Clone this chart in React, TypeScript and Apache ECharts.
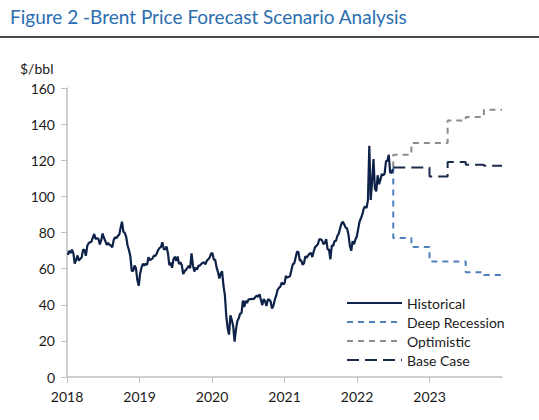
import React, { useEffect, useRef } from "react";
import * as echarts from "echarts";

// Weekly Brent closes (Fridays), starting 2018-01-05
const hist2018 = [67.6, 69.9, 68.6, 70.5, 68.6, 62.8, 64.8, 67.3, 64.4, 65.5, 66.2, 70.5, 70.3, 67.1, 72.6, 74.1, 74.6, 74.9, 77.1, 79.2, 76.4, 76.8, 76.5, 73.4, 75.6, 79.4, 77.1, 75.3, 73.1, 74.3, 73.2, 72.8, 71.8, 75.8, 77.4, 76.8, 78.1, 78.8, 82.7, 86.0, 80.4, 79.8, 77.6, 72.8, 70.2, 66.8, 58.8, 58.7, 61.7, 60.3, 53.8, 50.5];
const hist2019 = [57.1, 60.5, 62.7, 61.6, 62.8, 62.1, 66.3, 64.8, 65.1, 65.7, 67.2, 67.0, 68.4, 70.3, 71.5, 71.9, 74.6, 70.9, 70.6, 72.2, 68.7, 61.9, 63.3, 60.5, 65.2, 66.6, 64.2, 66.7, 62.5, 63.5, 61.9, 57.0, 58.6, 59.3, 60.4, 61.5, 60.2, 68.5, 61.9, 58.4, 60.5, 59.4, 61.7, 61.7, 62.5, 63.3, 63.4, 62.4, 64.4, 65.2, 66.1, 68.2];
const hist2020 = [68.6, 65.0, 64.9, 60.7, 58.2, 54.5, 57.3, 58.5, 50.5, 45.3, 33.9, 27.0, 23.5, 34.1, 31.5, 28.1, 19.6, 26.4, 31.0, 32.5, 35.1, 35.3, 42.3, 38.7, 42.2, 41.0, 42.8, 43.2, 43.1, 43.3, 43.3, 44.4, 45.0, 44.4, 45.8, 42.7, 39.8, 43.2, 41.9, 39.3, 42.9, 42.9, 41.8, 37.9, 39.5, 42.8, 45.0, 48.2, 49.3, 50.0, 52.3, 51.3];
const hist2021 = [51.8, 56.0, 55.1, 55.4, 55.9, 59.3, 62.4, 62.9, 66.1, 69.4, 69.2, 64.5, 64.6, 62.2, 63.0, 66.8, 66.1, 67.3, 68.3, 68.7, 66.4, 69.6, 71.9, 72.7, 73.5, 76.2, 76.2, 75.6, 73.6, 74.1, 76.3, 70.7, 70.6, 65.2, 72.7, 72.6, 75.3, 75.3, 78.1, 79.3, 82.4, 84.9, 86.0, 84.4, 82.7, 82.2, 78.9, 72.7, 69.9, 75.2, 73.5, 76.1, 77.8];
const hist2022 = [82.0, 86.1, 87.9, 90.0, 93.3, 94.4, 93.5, 97.9, 128.0, 98.0, 107.9, 120.7, 104.4, 102.8, 111.7, 106.7, 109.3, 112.4, 111.6, 112.6, 119.4, 119.7, 123.0, 113.1, 113.1, 115.0];
const historical = [...hist2018, ...hist2019, ...hist2020, ...hist2021, ...hist2022];

// Scenario quarter boundaries (decimal years) and values (value applies to preceding quarter)
const forecastX = [2022.5, 2022.75, 2023.0, 2023.25, 2023.5, 2023.75, 2024.0];
const deepRecession = [116, 77, 72, 64, 64, 58, 56.5];
const optimistic = [116, 123, 129.5, 129.5, 142, 144, 148];
const baseCase = [116, 116, 116, 111, 119, 117.5, 117];

const yearTicks = [2018, 2019, 2020, 2021, 2022, 2023];
const seriesNames = ["Historical", "Deep Recession", "Optimistic", "Base Case"];

function weekToYear(i: number): number {
  const d = new Date(2018, 0, 5 + 7 * i);
  const y = d.getFullYear();
  const start = new Date(y, 0, 1).getTime();
  const end = new Date(y + 1, 0, 1).getTime();
  return y + (d.getTime() - start) / (end - start);
}

const FONT = "Lato, 'Open Sans', sans-serif";

export default function App() {
  const ref = useRef<HTMLDivElement>(null);
  useEffect(() => {
    if (!ref.current) return;
    const chart = echarts.init(ref.current, null, { renderer: "svg" });
    const histData = historical.map((v, i) => [weekToYear(i), v]);
    const mk = (arr: number[]) => forecastX.map((x, i) => [x, arr[i]]);
    chart.setOption({
      animation: false,
      backgroundColor: "#ffffff",
      textStyle: { fontFamily: FONT },
      graphic: [
        {
          type: "text",
          left: 10,
          top: 7,
          style: { text: "Figure 2 -Brent Price Forecast Scenario Analysis", fill: "#2A6EB0", font: `19px ${FONT}` },
        },
        {
          type: "rect",
          shape: { x: 0, y: 36, width: 539, height: 2 },
          style: { fill: "#4a4a4a" },
        },
        {
          type: "text",
          left: 20,
          top: 61,
          style: { text: "$/bbl", fill: "#1a1a1a", font: `14px ${FONT}` },
        },
      ],
      grid: { left: 67, top: 88, width: 435, height: 289, containLabel: false },
      legend: {
        orient: "vertical",
        left: 341,
        top: 291,
        itemWidth: 55,
        itemHeight: 14,
        itemGap: 5,
        itemStyle: { opacity: 0 },
        textStyle: { fontSize: 14, color: "#1a1a1a", fontFamily: FONT },
        data: seriesNames,
      },
      xAxis: {
        type: "value",
        min: 2018,
        max: 2024,
        interval: 1,
        axisLine: { show: true, lineStyle: { color: "#c0c0c0", width: 1.5 } },
        axisTick: { show: true, length: 6, lineStyle: { color: "#c0c0c0" }, customValues: yearTicks },
        axisLabel: { color: "#1a1a1a", fontSize: 14, margin: 12, fontFamily: FONT, customValues: yearTicks, formatter: (v: number) => String(v) },
        splitLine: { show: false },
      },
      yAxis: {
        type: "value",
        min: 0,
        max: 160,
        interval: 20,
        axisLine: { show: true, lineStyle: { color: "#c0c0c0", width: 1.5 } },
        axisTick: { show: true, length: 6, lineStyle: { color: "#c0c0c0" } },
        axisLabel: { color: "#1a1a1a", fontSize: 14, margin: 12, fontFamily: FONT },
        splitLine: { show: false },
      },
      series: [
        {
          name: "Historical",
          type: "line",
          data: histData,
          symbol: "none",
          lineStyle: { color: "#0E2148", width: 2.2 },
          itemStyle: { color: "#0E2148" },
          z: 5,
        },
        {
          name: "Deep Recession",
          type: "line",
          data: mk(deepRecession),
          step: "start",
          symbol: "none",
          lineStyle: { color: "#4F81BD", width: 2, type: [6, 5] },
          itemStyle: { color: "#4F81BD" },
        },
        {
          name: "Optimistic",
          type: "line",
          data: mk(optimistic),
          step: "start",
          symbol: "none",
          lineStyle: { color: "#8C8C8C", width: 2, type: [6, 5] },
          itemStyle: { color: "#8C8C8C" },
        },
        {
          name: "Base Case",
          type: "line",
          data: mk(baseCase),
          step: "start",
          symbol: "none",
          lineStyle: { color: "#1B2A4A", width: 2, type: [12, 6] },
          itemStyle: { color: "#1B2A4A" },
        },
      ],
    });
    return () => chart.dispose();
  }, []);
  return <div ref={ref} style={{ position: "fixed", left: 0, top: 0, width: 539, height: 420 }} />;
}
